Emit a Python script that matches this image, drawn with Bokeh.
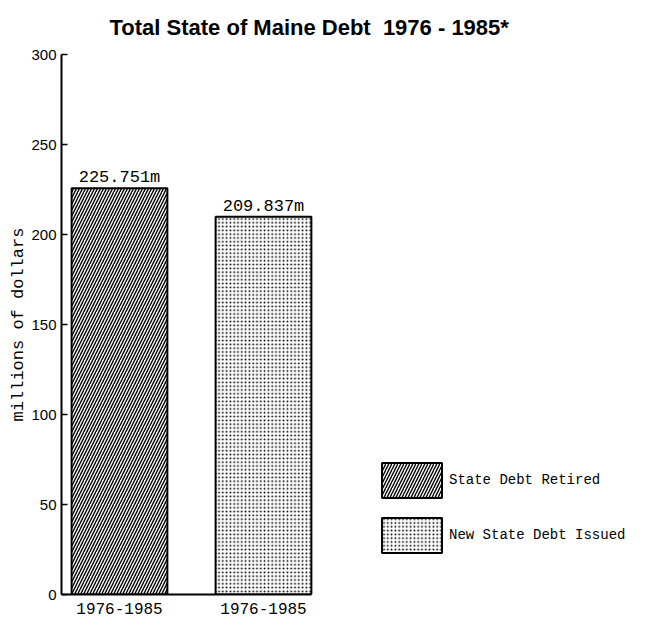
from bokeh.plotting import figure
from bokeh.models import (ColumnDataSource, Range1d, FixedTicker, Legend, LegendItem)
from bokeh.core.properties import value
from bokeh.embed import file_html
from bokeh.resources import INLINE

# ---- data ----
series = ["State Debt Retired", "New State Debt Issued"]
periods = ["1976-1985", "1976-1985"]
amounts = [225.751, 209.837]
amount_labels = ["225.751m", "209.837m"]
y_ticks = [0, 50, 100, 150, 200, 250, 300]
hatches = ["right_diagonal_line", "dot"]
title_text = "Total State of Maine Debt\u00a0\u00a01976 - 1985*"

positions = [i + 1 for i in range(len(amounts))]
bar_width = 0.665

MONO = "Liberation Mono"

W, H = 630, 617
BL, BT, BB = 61, 54, 23
p = figure(width=W, height=H, output_backend="svg", toolbar_location=None,
           min_border_left=BL, min_border_right=0, min_border_top=BT, min_border_bottom=BB)

unit = 144.0
x_start = 1 - 58 / unit
p.x_range = Range1d(x_start, x_start + (W - BL) / unit)
p.y_range = Range1d(0, 300)

p.outline_line_color = None
p.xgrid.grid_line_color = None
p.ygrid.grid_line_color = None

src = ColumnDataSource(dict(x=positions, top=amounts, lab=amount_labels))

renderers = []
for i in range(len(amounts)):
    r = p.vbar(x=[positions[i]], top=[amounts[i]], bottom=0, width=bar_width,
               fill_color="white", line_color="black", line_width=2,
               hatch_pattern=hatches[i], hatch_color="black",
               hatch_scale=6 if i == 0 else 3.8, hatch_weight=1.4 if i == 0 else 1.9)
    renderers.append(r)

p.text(x="x", y="top", text="lab", source=src, text_align="center",
       text_baseline="bottom", y_offset=-1, text_font=value(MONO),
       text_font_size="17px", text_color="black")

# y axis
ya = p.yaxis[0]
ya.ticker = FixedTicker(ticks=y_ticks)
ya.minor_tick_line_color = None
ya.major_tick_in = 6
ya.major_tick_out = 0
ya.major_tick_line_width = 1.5
ya.axis_line_width = 2
ya.axis_line_color = "black"
ya.major_label_text_font = "Liberation Sans"
ya.major_label_text_font_size = "15px"
ya.major_label_text_color = "black"
ya.major_label_standoff = 5
ya.axis_label = "millions of dollars"
ya.axis_label_text_font = MONO
ya.axis_label_text_font_size = "17px"
ya.axis_label_text_font_style = "normal"
ya.axis_label_text_color = "black"
ya.axis_label_standoff = 0

# x axis
xa = p.xaxis[0]
xa.ticker = FixedTicker(ticks=positions)
xa.major_label_overrides = {pos: lab for pos, lab in zip(positions, periods)}
xa.bounds = (x_start, positions[-1] + bar_width / 2)
xa.axis_line_width = 2
xa.axis_line_color = "black"
xa.major_tick_line_color = None
xa.minor_tick_line_color = None
xa.major_label_text_font = MONO
xa.major_label_text_font_size = "16px"
xa.major_label_text_color = "black"
xa.major_label_standoff = 2

# title
p.title.text = title_text
p.title.text_font = "Liberation Sans"
p.title.text_font_size = "22px"
p.title.text_font_style = "bold"
p.title.text_color = "black"
p.title.align = "left"
p.title.offset = 48
p.title.standoff = 26
p.title.vertical_align = "top"

legend = Legend(items=[LegendItem(label=series[i], renderers=[renderers[i]]) for i in range(len(series))],
                location=(313, 37), glyph_width=75, glyph_height=44, spacing=11,
                label_standoff=-3, padding=0, margin=0,
                border_line_color=None, background_fill_alpha=0,
                label_text_font=MONO, label_text_font_size="14px", label_text_color="black")
p.add_layout(legend)

open("out.html", "w").write(file_html(p, INLINE))
